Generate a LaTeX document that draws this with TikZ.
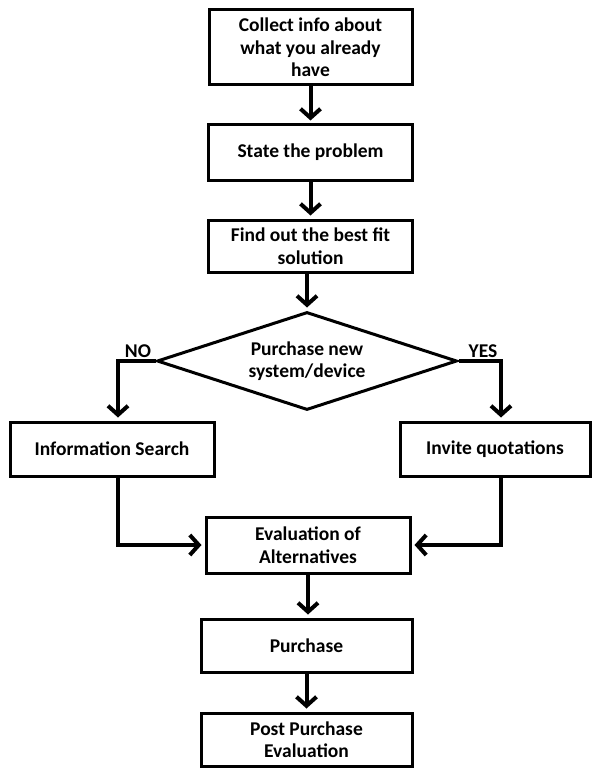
\documentclass[tikz,border=0pt]{standalone}
\usepackage{fontspec}
\setmainfont{Carlito}
\usetikzlibrary{arrows.meta,shapes.geometric}
\tikzset{
  box/.style={draw, line width=3pt, align=center, inner sep=0pt,
    font=\bfseries\fontsize{19.5}{22.5}\selectfont},
  lbl/.style={font=\bfseries\fontsize{19.5}{22.5}\selectfont, inner sep=0pt},
  flow/.style={line width=4pt, -{Straight Barb[length=9pt,width=20pt,line width=4pt]}, shorten >=3pt}
}
\begin{document}
\begin{tikzpicture}[x=1pt,y=-1pt]
\useasboundingbox (0,0) rectangle (600,770);
\node[box, minimum width=203pt, minimum height=75pt] (A) at (310.5,47.5) {Collect info about\\what you already\\have};
\node[box, minimum width=204pt, minimum height=55pt] (B) at (310.5,152.5) {State the problem};
\node[box, minimum width=204pt, minimum height=52pt] (C) at (310.5,246) {Find out the best fit\\solution};
\node[box, shape=diamond, shape aspect=3, minimum width=300pt, minimum height=98pt] (D) at (307,361) {Purchase new\\system/device};
\node[box, minimum width=204pt, minimum height=54pt] (E) at (112,449) {Information Search};
\node[box, minimum width=190pt, minimum height=54pt] (F) at (495,449) {Invite quotations};
\node[box, minimum width=204pt, minimum height=56pt] (G) at (308,545) {Evaluation of\\Alternatives};
\node[box, minimum width=211pt, minimum height=53pt] (H) at (306.5,645.5) {Purchase};
\node[box, minimum width=211pt, minimum height=53pt] (I) at (306.5,739.5) {Post Purchase\\Evaluation};
\node[lbl] (no) at (138,351) {NO};
\node[lbl] (yes) at (483,351) {YES};
\draw[flow] (A) -- (B);
\draw[flow] (B) -- (C);
\draw[flow] (C.south -| D.north) -- (D.north);
\coordinate (ne) at ([xshift=6pt]E.north);
\coordinate (fn) at ([xshift=6pt]F.north);
\draw[flow] (D.west) -| (ne);
\draw[flow] (D.east) -| (fn);
\draw[flow] ([xshift=6pt]E.south) |- (G.west);
\draw[flow] ([xshift=6pt]F.south) |- (G.east);
\draw[flow] (G.south) -- (G.south |- H.north);
\draw[flow] (H.south) -- (H.south |- I.north);
\end{tikzpicture}
\end{document}
